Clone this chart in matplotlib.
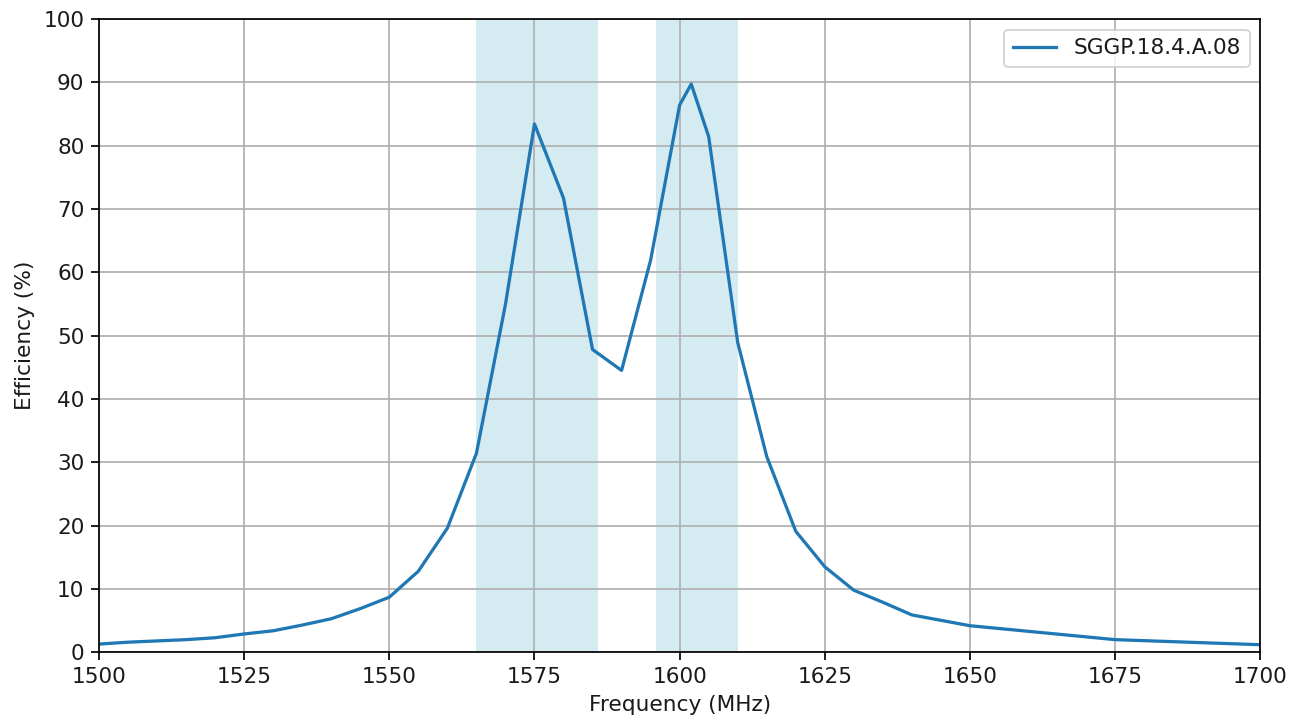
import matplotlib
matplotlib.use("Agg")
import matplotlib.pyplot as plt

# Frequency points (MHz) and efficiency (%)
freq = [1500, 1505, 1510, 1515, 1520, 1525, 1530, 1535, 1540, 1545, 1550, 1555,
        1560, 1565, 1570, 1575, 1580, 1585, 1590, 1595, 1600, 1602, 1605, 1610,
        1615, 1620, 1625, 1630, 1635, 1640, 1650, 1675, 1700]
efficiency = [1.3, 1.6, 1.8, 2.0, 2.3, 2.9, 3.4, 4.3, 5.3, 6.9, 8.7, 12.8,
              19.6, 31.4, 54.9, 83.4, 71.7, 47.8, 44.5, 61.9, 86.4, 89.7, 81.4, 48.9,
              30.9, 19.1, 13.5, 9.8, 7.9, 5.9, 4.2, 2.0, 1.2]

# Bands highlighted on the chart
bands = [(1565, 1586), (1596, 1610)]
label = "SGGP.18.4.A.08"

# reference looks like it was rendered a bit larger and scaled down
s = 1.08
plt.rcParams.update({
    "font.size": 10 * s,
    "lines.linewidth": 1.5 * s,
    "axes.linewidth": 0.8 * s,
    "grid.linewidth": 0.8 * s,
    "xtick.major.width": 0.8 * s,
    "ytick.major.width": 0.8 * s,
    "xtick.major.size": 3.5 * s,
    "ytick.major.size": 3.5 * s,
    "text.color": "#1a1a1a",
    "axes.labelcolor": "#1a1a1a",
    "xtick.labelcolor": "#1a1a1a",
    "ytick.labelcolor": "#1a1a1a",
})

fig = plt.figure(figsize=(1302 / 144, 724 / 144), dpi=144)
ax = fig.add_subplot(111)
fig.subplots_adjust(left=0.076, right=0.968, top=0.974, bottom=0.099)

for lo, hi in bands:
    ax.axvspan(lo, hi, color="lightblue", alpha=0.5, lw=0)

ax.plot(freq, efficiency, label=label)

ax.set_xlim(1500, 1700)
ax.set_ylim(0, 100)
ax.set_xticks(range(1500, 1701, 25))
ax.set_yticks(range(0, 101, 10))
ax.set_xlabel("Frequency (MHz)")
ax.set_ylabel("Efficiency (%)")
ax.grid(True)
ax.legend(loc="upper right")

fig.savefig("out.png", dpi=144)
